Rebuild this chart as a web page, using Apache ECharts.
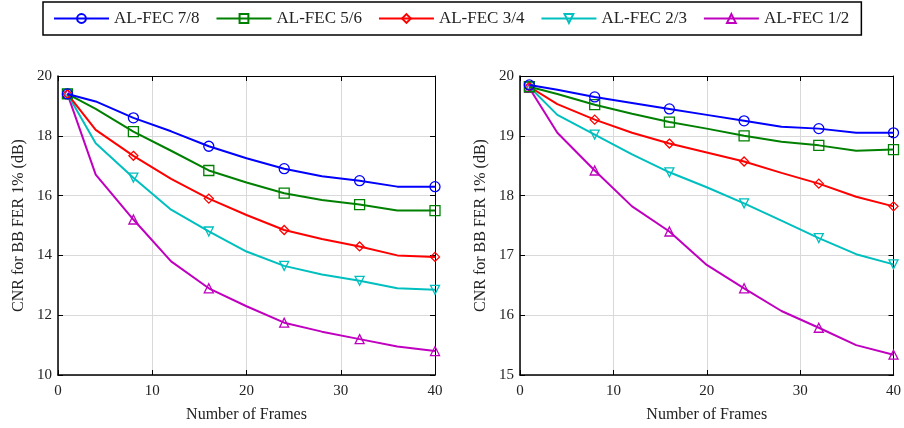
<!DOCTYPE html>
<html>
<head>
<meta charset="utf-8">
<script src="https://cdn.jsdelivr.net/npm/echarts@6/dist/echarts.min.js"></script>
<style>
  html, body { margin: 0; padding: 0; background: #fff; }
  #chart { width: 904px; height: 428px; }
</style>
</head>
<body>
<div id="chart"></div>
<script>
// frames on the x axis, markers only drawn on some of them
var frames = [1, 4, 8, 12, 16, 20, 24, 28, 32, 36, 40];
var markerFrames = [1, 8, 16, 24, 32, 40];
var names = ['AL-FEC 7/8', 'AL-FEC 5/6', 'AL-FEC 3/4', 'AL-FEC 2/3', 'AL-FEC 1/2'];

// left plot
var left78 = [19.4, 19.15, 18.6, 18.15, 17.65, 17.25, 16.9, 16.65, 16.5, 16.3, 16.3];
var left56 = [19.4, 18.9, 18.14, 17.5, 16.84, 16.44, 16.08, 15.85, 15.7, 15.5, 15.5];
var left34 = [19.4, 18.2, 17.33, 16.56, 15.9, 15.35, 14.85, 14.55, 14.3, 14.0, 13.95];
var left23 = [19.4, 17.75, 16.6, 15.53, 14.8, 14.13, 13.65, 13.36, 13.15, 12.9, 12.85];
var left12 = [19.4, 16.7, 15.2, 13.8, 12.9, 12.3, 11.75, 11.45, 11.2, 10.95, 10.8];

// right plot
var right78 = [19.85, 19.77, 19.65, 19.55, 19.45, 19.35, 19.25, 19.15, 19.12, 19.05, 19.05];
var right56 = [19.82, 19.7, 19.52, 19.37, 19.23, 19.12, 19.0, 18.9, 18.84, 18.75, 18.77];
var right34 = [19.82, 19.53, 19.27, 19.05, 18.87, 18.72, 18.57, 18.38, 18.2, 17.98, 17.82];
var right23 = [19.82, 19.35, 19.02, 18.69, 18.39, 18.14, 17.87, 17.58, 17.29, 17.02, 16.85];
var right12 = [19.8, 19.05, 18.42, 17.82, 17.4, 16.84, 16.45, 16.07, 15.79, 15.5, 15.34];

var colors = ['#0000ff', '#008000', '#ff0000', '#00bfbf', '#bf00bf'];
var symbols = ['circle', 'rect', 'diamond', 'triangle', 'triangle'];
var rotates = [0, 0, 0, 180, 0];
var sizes = [10, 10, 9, 9, 9];

var font = '"Liberation Serif", "DejaVu Serif", serif';

function makeSeries(i, vals, gi) {
  return {
    name: names[i],
    type: 'line',
    xAxisIndex: gi * 2,
    yAxisIndex: gi * 2,
    symbol: symbols[i],
    symbolRotate: rotates[i],
    symbolSize: sizes[i],
    z: 10 - i,
    lineStyle: { color: colors[i], width: 2 },
    itemStyle: { color: 'rgba(0,0,0,0)', borderColor: colors[i], borderWidth: 1.3 },
    animation: false,
    data: frames.map(function (f, k) {
      var d = { value: [f, vals[k]] };
      if (markerFrames.indexOf(f) < 0) d.symbol = 'none';
      return d;
    })
  };
}

function mainX(gi) {
  return {
    type: 'value', gridIndex: gi, min: 0, max: 40, interval: 10,
    name: 'Number of Frames', nameLocation: 'middle', nameGap: 32,
    nameTextStyle: { fontFamily: font, fontSize: 16, color: '#222' },
    axisLine: { onZero: false, lineStyle: { color: '#000', width: 1.5 } },
    axisTick: { inside: true, length: 5, lineStyle: { color: '#000' } },
    axisLabel: { fontFamily: font, fontSize: 15, color: '#222', margin: 9 },
    splitLine: { show: true, lineStyle: { color: '#d9d9d9', width: 1 } }
  };
}
function topX(gi) {
  return {
    type: 'value', gridIndex: gi, position: 'top', min: 0, max: 40, interval: 10,
    axisLine: { onZero: false, lineStyle: { color: '#000', width: 1 } },
    axisTick: { inside: true, length: 5, lineStyle: { color: '#000' } },
    axisLabel: { show: false }, splitLine: { show: false }
  };
}
function mainY(gi, min, max, step) {
  return {
    type: 'value', gridIndex: gi, min: min, max: max, interval: step,
    name: 'CNR for BB FER 1% (dB)', nameLocation: 'middle', nameGap: 31,
    nameTextStyle: { fontFamily: font, fontSize: 16, color: '#222' },
    axisLine: { onZero: false, lineStyle: { color: '#000', width: 1.5 } },
    axisTick: { inside: true, length: 5, lineStyle: { color: '#000' } },
    axisLabel: { fontFamily: font, fontSize: 15, color: '#222', margin: 6 },
    splitLine: { show: true, lineStyle: { color: '#d9d9d9', width: 1 } }
  };
}
function rightY(gi, min, max, step) {
  return {
    type: 'value', gridIndex: gi, position: 'right', min: min, max: max, interval: step,
    axisLine: { onZero: false, lineStyle: { color: '#000', width: 1 } },
    axisTick: { inside: true, length: 5, lineStyle: { color: '#000' } },
    axisLabel: { show: false }, splitLine: { show: false }
  };
}

var leftSets = [left78, left56, left34, left23, left12];
var rightSets = [right78, right56, right34, right23, right12];
var series = [];
leftSets.forEach(function (v, i) { series.push(makeSeries(i, v, 0)); });
rightSets.forEach(function (v, i) { series.push(makeSeries(i, v, 1)); });

var chart = echarts.init(document.getElementById('chart'), null, { renderer: 'canvas' });
chart.setOption({
  backgroundColor: '#fff',
  animation: false,
  legend: {
    data: names,
    left: 43, top: 2,
    padding: [8, 12, 8, 10],
    itemWidth: 55, itemHeight: 11, itemGap: 16,
    borderColor: '#000', borderWidth: 1.5,
    textStyle: { fontFamily: font, fontSize: 17, color: '#222' }
  },
  grid: [
    { left: 58, top: 76, width: 377, height: 301 },
    { left: 520, top: 76, width: 376, height: 301 }
  ],
  xAxis: [mainX(0), topX(0), mainX(1), topX(1)],
  yAxis: [mainY(0, 10, 20, 2), rightY(0, 10, 20, 2), mainY(1, 15, 20, 1), rightY(1, 15, 20, 1)],
  series: series
});
</script>
</body>
</html>
